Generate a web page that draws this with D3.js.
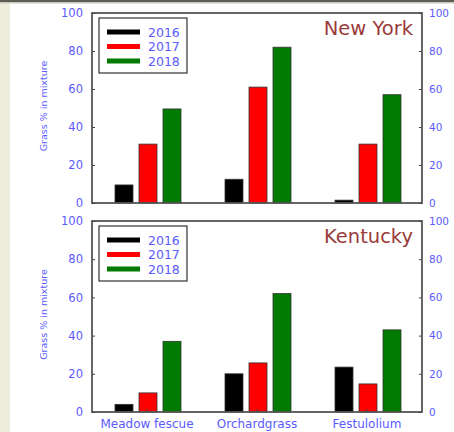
<!DOCTYPE html>
<html><head><meta charset="utf-8">
<script src="https://cdn.jsdelivr.net/npm/d3@7"></script>
<style>body{margin:0;background:#fff;}svg{display:block;}</style>
</head><body>
<script>
const categories = ["Meadow fescue", "Orchardgrass", "Festulolium"];
const years = ["2016", "2017", "2018"];
const colors = ["#000000", "#ff0000", "#007a00"];
const newYork2016 = [9.5, 12.5, 1.5];
const newYork2017 = [31, 61, 31];
const newYork2018 = [49.5, 82, 57];
const kentucky2016 = [4, 20, 23.5];
const kentucky2017 = [10, 25.7, 14.7];
const kentucky2018 = [37, 62, 43];
const yTicks = [0, 20, 40, 60, 80, 100];
const panels = [
  {title: "New York", series: [newYork2016, newYork2017, newYork2018], top: 13, bottom: 203},
  {title: "Kentucky", series: [kentucky2016, kentucky2017, kentucky2018], top: 221, bottom: 412}
];

const W = 454, H = 432;
const FONT = "DejaVu Sans, Verdana, sans-serif";
const svg = d3.select("body").append("svg").attr("width", W).attr("height", H);
svg.append("rect").attr("x",0).attr("y",0).attr("width",W).attr("height",H).attr("fill","#fff");
svg.append("rect").attr("x",0).attr("y",0).attr("width",10).attr("height",H).attr("fill","#eeecdc");
svg.append("rect").attr("x",0).attr("y",0).attr("width",W).attr("height",2).attr("fill","#5e5e52");
svg.append("rect").attr("x",0).attr("y",2).attr("width",W).attr("height",1.5).attr("fill","#c8c8c0");

const left = 92, right = 422;
const blue = "#5a5aff";
const x0 = d3.scaleBand().domain(categories).range([left, right]);
const x1 = d3.scaleBand().domain(years).range([17, 95]).padding(0.25);

panels.forEach((p, pi) => {
  const y = d3.scaleLinear().domain([0, 100]).range([p.bottom, p.top]);
  const g = svg.append("g");
  years.forEach((yr, si) => {
    g.selectAll(null).data(p.series[si]).enter().append("rect")
      .attr("x", (d, i) => x0(categories[i]) + x1(yr))
      .attr("y", d => y(d))
      .attr("width", x1.bandwidth())
      .attr("height", d => y(0) - y(d))
      .attr("fill", colors[si])
      .attr("stroke", "#333").attr("stroke-width", 0.8);
  });
  g.append("rect").attr("x", left).attr("y", p.top).attr("width", right-left).attr("height", p.bottom-p.top)
    .attr("fill", "none").attr("stroke", "#555").attr("stroke-width", 1.8);
  const la = g.append("g").attr("transform", `translate(${left},0)`)
    .call(d3.axisLeft(y).tickValues(yTicks).tickSize(-3).tickPadding(9));
  la.select(".domain").remove();
  la.selectAll("line").attr("stroke", "#444");
  la.selectAll("text").attr("fill", blue).attr("font-family", FONT).attr("font-size", 11.5);
  const ra = g.append("g").attr("transform", `translate(${right},0)`)
    .call(d3.axisRight(y).tickValues(yTicks).tickSize(-3).tickPadding(7));
  ra.select(".domain").remove();
  ra.selectAll("line").attr("stroke", "#444");
  ra.selectAll("text").attr("fill", blue).attr("font-family", FONT).attr("font-size", 10.5);
  g.append("text").attr("transform", `translate(47,${(p.top+p.bottom)/2 - 2}) rotate(-90)`)
    .attr("text-anchor", "middle").attr("fill", blue)
    .attr("font-family", FONT).attr("font-size", 9.5).text("Grass % in mixture");
  g.append("text").attr("x", 413).attr("y", p.top + 22).attr("text-anchor", "end")
    .attr("fill", "#9a3b3b").attr("font-family", FONT).attr("font-size", 19.5).text(p.title);
  const lg = g.append("g").attr("transform", `translate(99,${p.top + 5})`);
  lg.append("rect").attr("width", 88).attr("height", 55).attr("fill", "#fff").attr("stroke", "#333").attr("stroke-width", 1.2);
  years.forEach((yr, i) => {
    lg.append("line").attr("x1", 8).attr("x2", 41).attr("y1", 14 + i*14.5).attr("y2", 14 + i*14.5)
      .attr("stroke", colors[i]).attr("stroke-width", 5);
    lg.append("text").attr("x", 49).attr("y", 18.5 + i*14.5).attr("fill", blue)
      .attr("font-family", FONT).attr("font-size", 12.5).text(yr);
  });
  if (pi === 1) {
    const xa = g.append("g").attr("transform", `translate(0,${p.bottom})`)
      .call(d3.axisBottom(x0).tickSize(-3).tickPadding(7.5));
    xa.select(".domain").remove();
    xa.selectAll("line").attr("stroke", "#444");
    xa.selectAll("text").attr("fill", blue).attr("font-family", FONT).attr("font-size", 12);
  }
});
</script>
</body></html>
